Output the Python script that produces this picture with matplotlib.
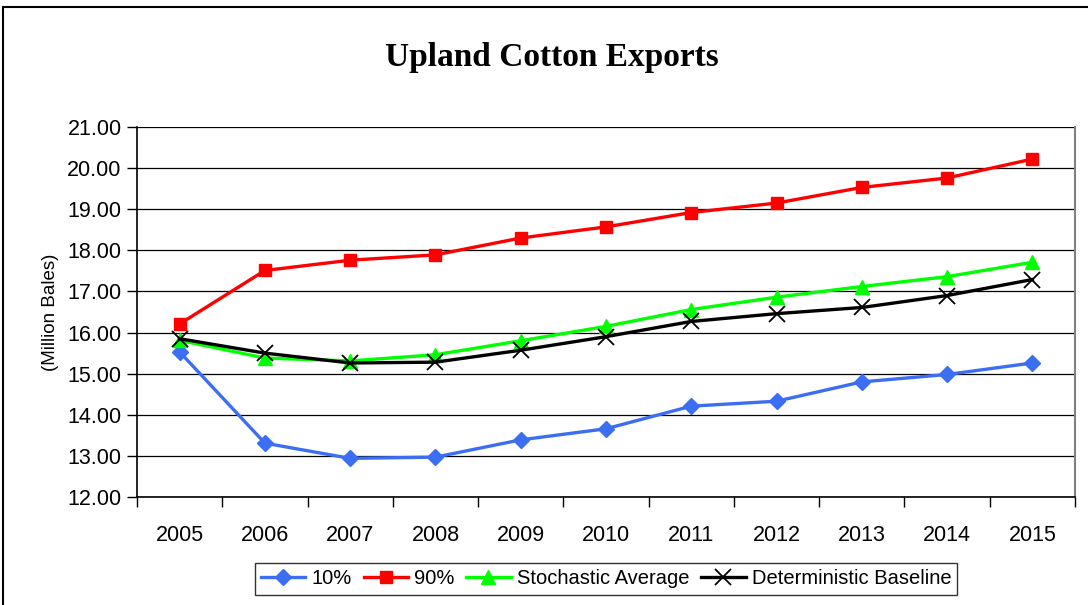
import matplotlib.pyplot as plt
from matplotlib.patches import Rectangle

# dados
anos = ['2005', '2006', '2007', '2008', '2009', '2010', '2011', '2012', '2013', '2014', '2015']
p10 = [15.53, 13.31, 12.94, 12.97, 13.39, 13.66, 14.21, 14.33, 14.80, 14.98, 15.26]
p90 = [16.21, 17.51, 17.76, 17.89, 18.30, 18.57, 18.92, 19.15, 19.53, 19.76, 20.22]
estocastico = [15.81, 15.38, 15.31, 15.46, 15.80, 16.15, 16.56, 16.86, 17.12, 17.36, 17.71]
deterministico = [15.85, 15.50, 15.26, 15.28, 15.57, 15.90, 16.27, 16.46, 16.61, 16.90, 17.29]

plt.rcParams['font.family'] = ['Liberation Sans', 'DejaVu Sans']

fig = plt.figure(figsize=(10.88, 6.05), dpi=100)
ax = fig.add_axes([137 / 1088, 1 - 497 / 605, (1075 - 137) / 1088, (497 - 127) / 605])

x = list(range(len(anos)))
ax.plot(x, p10, color='#3B6EF2', lw=2.4, marker='D', ms=8, label='10%')
ax.plot(x, p90, color='#FF0000', lw=2.4, marker='s', ms=9, label='90%')
ax.plot(x, estocastico, color='#00FF00', lw=2.4, marker='^', ms=10, label='Stochastic Average')
ax.plot(x, deterministico, color='black', lw=2.4, marker='x', ms=11, mew=1.3,
        label='Deterministic Baseline')

ax.set_xlim(-0.5, len(anos) - 0.5)
ax.set_ylim(12, 21)
ax.set_yticks(range(12, 22))
ax.set_yticklabels(['%.2f' % v for v in range(12, 22)], fontsize=15.5)
ax.yaxis.grid(True, color='black', lw=0.9)
ax.set_axisbelow(True)

ax.set_xticks(x)
ax.set_xticklabels(anos, fontsize=15.5)
ax.set_xticks([i - 0.5 for i in range(len(anos) + 1)], minor=True)
ax.tick_params(axis='x', which='major', length=0, pad=20)
ax.tick_params(axis='x', which='minor', length=7, width=1, direction='out')
ax.tick_params(axis='y', length=7, width=1, direction='out', pad=4)

ax.spines['top'].set_visible(False)
ax.spines['right'].set_color('#808080')
ax.spines['right'].set_linewidth(1.5)
ax.spines['left'].set_linewidth(1.2)
ax.spines['bottom'].set_linewidth(1.2)

ax.set_ylabel('(Million Bales)', fontsize=13.5, labelpad=6)

fig.text(0.507, 0.905, 'Upland Cotton Exports', ha='center', va='center',
         fontsize=24, fontweight='bold', family='Liberation Serif')

leg = fig.legend(loc='center', bbox_to_anchor=(0.557, 0.043), ncol=4, fontsize=14.5,
                 frameon=True, fancybox=False, edgecolor='black', borderpad=0.3,
                 handlelength=2.2, handletextpad=0.3, columnspacing=0.6)
leg.get_frame().set_linewidth(1.0)

# moldura externa
fig.patches.append(Rectangle((3 / 1088, -0.2), 1.2, 1.2 - 7 / 605, transform=fig.transFigure,
                             fill=False, edgecolor='black', lw=1.5))

fig.savefig('out.png', dpi=100)
